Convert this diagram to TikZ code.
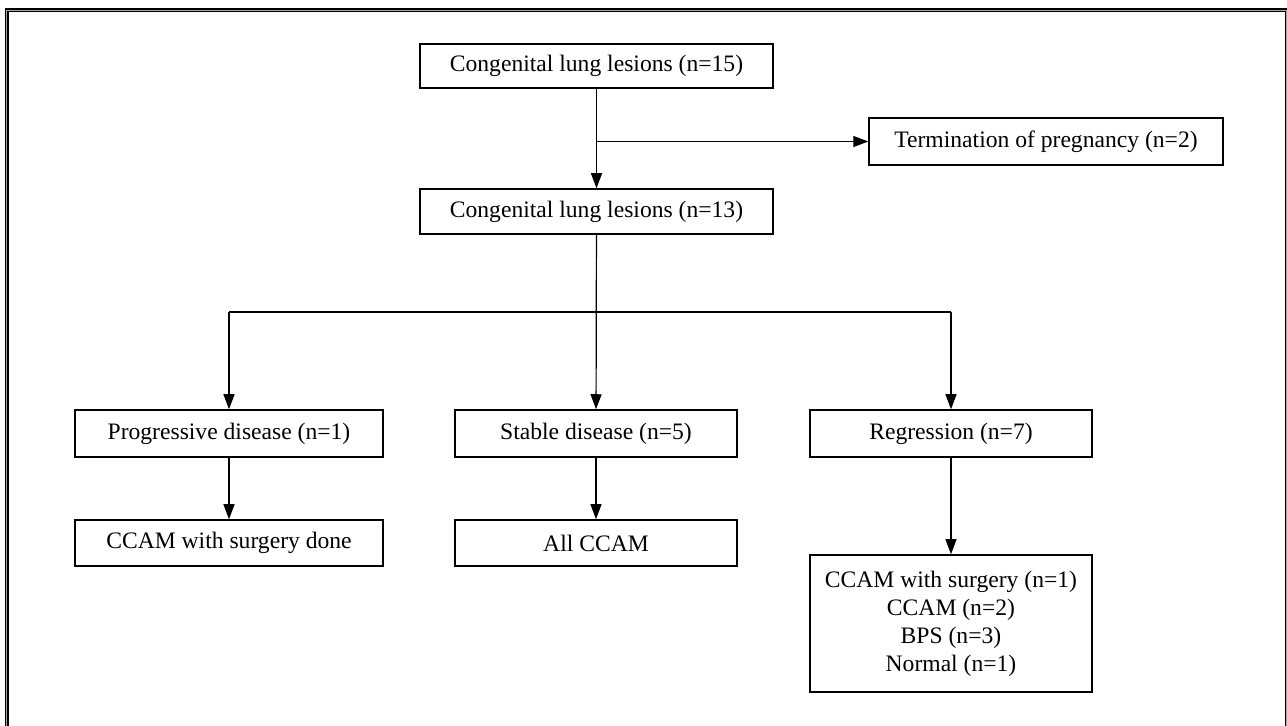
\documentclass[tikz,border=0pt]{standalone}
\usepackage{fontspec}
\setmainfont{Liberation Serif}
\usetikzlibrary{arrows.meta}

\begin{document}
\begin{tikzpicture}[x=0.5pt, y=-0.5pt,
	box/.style={draw, line width=0.75pt, inner sep=0pt, align=center, font=\fontsize{11.8}{14}\selectfont},
	arr/.style={-{Triangle[length=7.5pt,width=5.5pt]}, line width=0.6pt}]
	\useasboundingbox (0,0) rectangle (1287,726);
	% outer frame
	\begin{scope}
		\clip (0,0) rectangle (1287,726);
		\draw[line width=2pt] (6.8,10.2) rectangle (1286.5,760);
		\draw[line width=0.5pt, gray!70] (6.8,10.2) rectangle (1286.5,760);
	\end{scope}
	% boxes
	\node[box, minimum width=176.5pt, minimum height=22pt] (les15) at (596.5,66) {Congenital lung lesions (n=15)};
	\node[box, minimum width=177pt, minimum height=23.5pt] (term) at (1046,141.5) {Termination of pregnancy (n=2)};
	\node[box, minimum width=176.5pt, minimum height=22.5pt] (les13) at (596.5,211.5) {Congenital lung lesions (n=13)};
	\node[box, minimum width=154pt, minimum height=23.5pt] (prog) at (229,433.5) {Progressive disease (n=1)};
	\node[box, minimum width=141pt, minimum height=23.5pt] (stable) at (596,433.5) {Stable disease (n=5)};
	\node[box, minimum width=141pt, minimum height=23.5pt] (regr) at (951,433.5) {Regression (n=7)};
	\node[box, minimum width=154pt, minimum height=23pt] (done) at (229,543) {CCAM with surgery done};
	\node[box, minimum width=141pt, minimum height=23pt] (allccam) at (596,543) {All CCAM};
	\node[box, minimum width=141pt, minimum height=68.5pt] (regres) at (951,623.5) {CCAM with surgery (n=1)\\CCAM (n=2)\\BPS (n=3)\\Normal (n=1)};
	% connectors
	\coordinate (split) at (les15.south |- term.west);
	\coordinate (fork) at (596.5,312);
	\coordinate (forkL) at (prog |- fork);
	\coordinate (forkR) at (regr |- fork);
	\draw[arr] (les15) -- (les13);
	\draw[arr] (split) -- (term);
	\draw[arr] (les13) -- (stable);
	\draw[line width=0.6pt] (forkL) -- (forkR);
	\draw[arr] (forkL) -- (prog);
	\draw[arr] (forkR) -- (regr);
	\draw[arr] (prog) -- (done);
	\draw[arr] (stable) -- (allccam);
	\draw[arr] (regr) -- (regres);
\end{tikzpicture}
\end{document}
